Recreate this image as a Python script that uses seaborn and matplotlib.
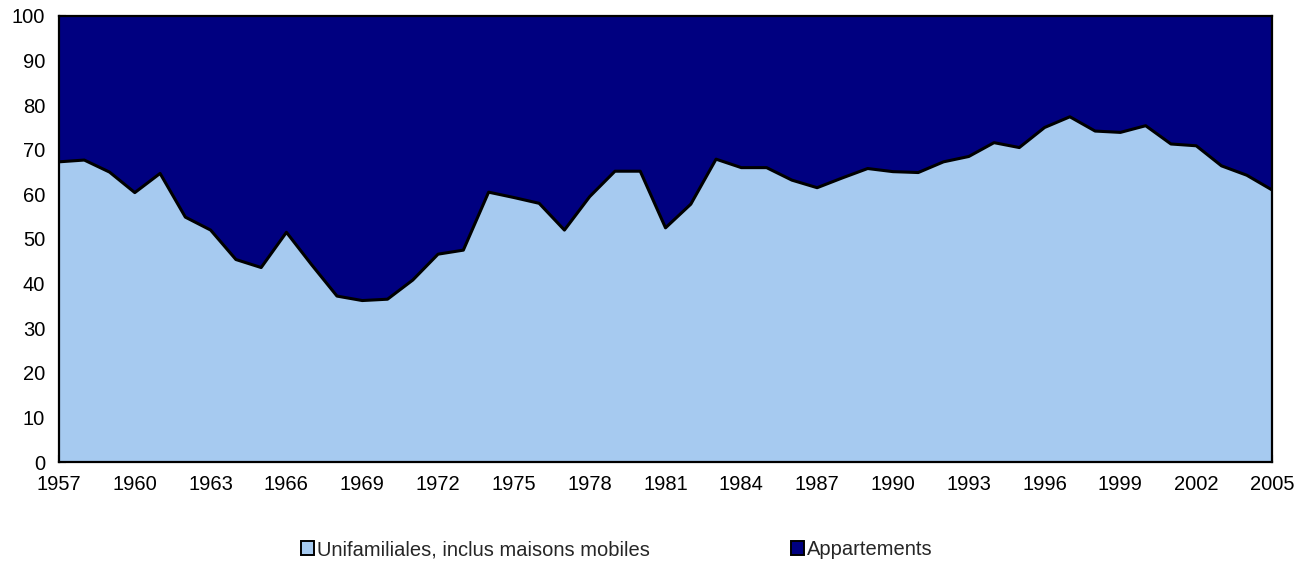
import numpy as np
import pandas as pd
import matplotlib
matplotlib.use("Agg")
import matplotlib.pyplot as plt
from matplotlib.patches import Patch
import seaborn as sns

years = list(range(1957, 2006))
unifamiliales = [
    67.3, 67.7, 65.0, 60.4, 64.7, 54.9, 52.0, 45.4, 43.6, 51.5,
    44.2, 37.2, 36.2, 36.5, 40.8, 46.6, 47.5, 60.5, 59.3, 58.0,
    52.0, 59.5, 65.2, 65.2, 52.5, 57.8, 67.9, 66.0, 66.0, 63.2,
    61.5, 63.7, 65.8, 65.1, 64.9, 67.3, 68.5, 71.6, 70.5, 75.0,
    77.4, 74.2, 73.9, 75.4, 71.3, 70.9, 66.4, 64.3, 61.0,
]
appartements = [100 - v for v in unifamiliales]
labels = ["Unifamiliales, inclus maisons mobiles", "Appartements"]
colors = ["#A6CAF0", "#000080"]

df = pd.DataFrame({"year": years, "unif": unifamiliales, "appt": appartements})
df["top"] = df["unif"] + df["appt"]

sns.set_style("white")
plt.rcParams["font.family"] = ["Liberation Sans", "DejaVu Sans"]

fig = plt.figure(figsize=(13.08, 5.65), dpi=100)
ax = fig.add_axes([0.0451, 0.1823, 0.9274, 0.7894])

# stacked areas (100 %)
ax.fill_between(df["year"], 0, df["unif"], color=colors[0], linewidth=0)
ax.fill_between(df["year"], df["unif"], df["top"], color=colors[1], linewidth=0)
sns.lineplot(data=df, x="year", y="unif", color="black", linewidth=2.2, ax=ax)

ax.set_xlim(1957, 2005)
ax.set_ylim(0, 100)
ax.set_xlabel("")
ax.set_ylabel("")

ax.set_xticks(years)
ax.set_xticklabels([str(y) if (y - 1957) % 3 == 0 else "" for y in years])
ax.set_yticks(range(0, 101, 10))
ax.tick_params(axis="x", bottom=True, direction="in", length=5, width=1.5,
               labelsize=14.5, pad=9, colors="black")
ax.tick_params(axis="y", left=True, direction="in", length=5, width=1.5,
               labelsize=14.5, pad=10, colors="black")

for s in ax.spines.values():
    s.set_visible(True)
    s.set_color("black")
    s.set_linewidth(1.6)

handles = [Patch(facecolor=c, edgecolor="black", linewidth=1.4) for c in colors]
fig.legend(handles, labels, loc="center", bbox_to_anchor=(0.4713, 0.027), ncol=2,
           frameon=False, fontsize=14.5, handlelength=0.65, handleheight=0.65,
           handletextpad=0.15, columnspacing=7)

fig.savefig("out.png", dpi=100)
